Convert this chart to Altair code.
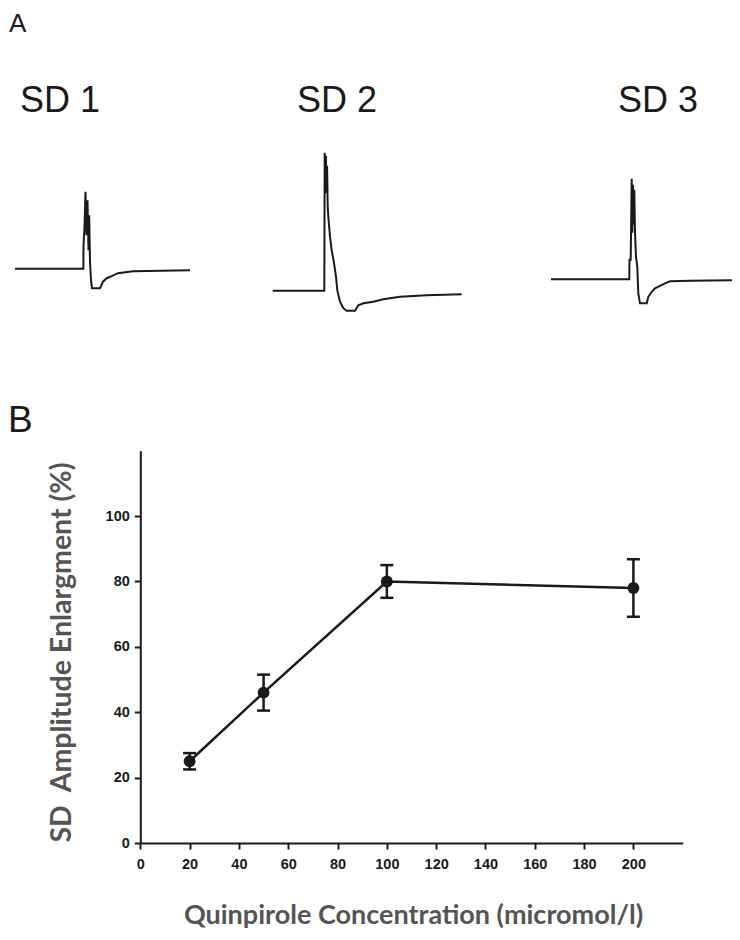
import altair as alt
import pandas as pd

# ---------------- Panel B data ----------------
conc = [20, 50, 100, 200]
amp_mean = [25, 46, 80, 78]
amp_err = [2.5, 5.5, 5.0, 8.8]
x_ticks = [0, 20, 40, 60, 80, 100, 120, 140, 160, 180, 200]
y_ticks = [0, 20, 40, 60, 80, 100]

# ---------------- Panel A traces (time s, potential mV relative to baseline) ----------------
sd1_t = [0, 68.3, 68.5, 69.5, 70.5, 71.5, 72.5, 73.5, 74.2, 75, 76, 77, 85, 88, 91.7, 96.7, 103, 118, 175]
sd1_v = [0, 0, 4.7, 8.3, 15.4, 6.7, 13.7, 3.7, 10.7, 1.3, -2.3, -3.9, -3.9, -2.6, -1.9, -1.5, -0.9, -0.5, -0.3]

sd2_t = [0, 51.6, 52.0, 52.6, 53.2, 53.8, 54.4, 55.0, 55.6, 57.3, 59, 61.3, 63.3, 64.6, 67.3, 70.6, 74, 82.3,
         85.6, 90.6, 100.6, 110.6, 127.3, 154, 189]
sd2_v = [0, 0, 27.6, 21.0, 27.0, 19.5, 25.0, 17.0, 14.8, 10.8, 8.1, 5.5, 2.8, 0.1, -2.2, -3.5, -4.0, -4.0,
         -2.9, -2.5, -2.2, -1.7, -1.2, -0.9, -0.7]

sd3_t = [0, 78.3, 78.5, 79.7, 80.7, 81.3, 82, 82.7, 83.3, 84, 85, 86.3, 87.3, 89, 95.7, 97.3, 100.7, 104,
         109, 114, 119, 139, 181]
sd3_v = [0, 0, 3.9, 3.9, 20.1, 9.3, 18.9, 10.9, 17.9, 9.3, 4.5, 2.5, -2.8, -4.8, -4.8, -3.5, -2.5, -1.8,
         -1.3, -0.8, -0.4, -0.3, -0.2]

trace_names = ["SD 1", "SD 2", "SD 3"]

INK = "#1a1a1a"
TITLE_GRAY = "#555555"

# ---------------- Panel B ----------------
dfB = pd.DataFrame({"conc": conc, "mean": amp_mean, "err": amp_err})
dfB["lo"] = dfB["mean"] - dfB["err"]
dfB["hi"] = dfB["mean"] + dfB["err"]

xscale = alt.Scale(domain=[0, 220], range=[132.3, 674.7], nice=False, zero=False)
yscale = alt.Scale(domain=[0, 120], range=[835, 442.7], nice=False, zero=False)

common_axis = dict(
    grid=False, labelFont="Liberation Sans", labelFontSize=14.5, labelFontWeight="bold",
    labelColor=INK, tickSize=6, tickWidth=2, tickColor=INK, domainColor=INK, domainWidth=2,
    labelFlush=False, labelOverlap=False, titleFont="Lato",
    titleFontWeight="bold", titleColor=TITLE_GRAY, titleAlign="center", titleBaseline="middle",
)
xaxis = alt.Axis(orient="bottom", offset=-89, values=x_ticks, labelPadding=8,
                 title="Quinpirole Concentration (micromol/l)", titleX=405, titleY=72.5,
                 titleFontSize=27, **common_axis)
yaxis = alt.Axis(orient="left", offset=-132.3, values=y_ticks, labelPadding=5,
                 title="SD\u00a0 Amplitude Enlargment (%)", titleX=-78.6, titleY=644, titleAngle=-90,
                 titleFontSize=28.5, **common_axis)

baseB = alt.Chart(dfB)
lineB = baseB.mark_line(color=INK, strokeWidth=2.5).encode(
    x=alt.X("conc:Q", scale=xscale, axis=xaxis),
    y=alt.Y("mean:Q", scale=yscale, axis=yaxis),
)
pointsB = baseB.mark_point(filled=True, shape="circle", size=140, color=INK, opacity=1).encode(
    x=alt.X("conc:Q", scale=xscale, axis=xaxis),
    y=alt.Y("mean:Q", scale=yscale, axis=yaxis),
)
errB = baseB.mark_rule(color=INK, strokeWidth=2.5).encode(
    x=alt.X("conc:Q", scale=xscale, axis=xaxis),
    y=alt.Y("lo:Q", scale=yscale, axis=yaxis),
    y2="hi:Q",
)
capLo = baseB.mark_tick(color=INK, orient="horizontal", size=13, thickness=2.5, opacity=1).encode(
    x=alt.X("conc:Q", scale=xscale, axis=xaxis),
    y=alt.Y("lo:Q", scale=yscale, axis=yaxis),
)
capHi = baseB.mark_tick(color=INK, orient="horizontal", size=13, thickness=2.5, opacity=1).encode(
    x=alt.X("conc:Q", scale=xscale, axis=xaxis),
    y=alt.Y("hi:Q", scale=yscale, axis=yaxis),
)
panelB = alt.layer(lineB, errB, capLo, capHi, pointsB)

# ---------------- Panel A traces ----------------
def trace_layer(t, v, x_range, y_range):
    df = pd.DataFrame({"t": t, "v": v, "i": list(range(len(t)))})
    return alt.Chart(df).mark_line(color=INK, strokeWidth=2).encode(
        x=alt.X("t:Q", scale=alt.Scale(domain=[0, 190], range=x_range, nice=False, zero=False), axis=None),
        y=alt.Y("v:Q", scale=alt.Scale(domain=[-10, 30], range=y_range, nice=False, zero=False), axis=None),
        order="i:Q",
    )

tr1 = trace_layer(sd1_t, sd1_v, [7, 197], [310.7, 110.7])
tr2 = trace_layer(sd2_t, sd2_v, [264.7, 454.7], [332.7, 132.7])
tr3 = trace_layer(sd3_t, sd3_v, [543, 733], [321.3, 121.3])

# ---------------- Text labels ----------------
def label(text, x, y, size, align="left"):
    return alt.Chart(pd.DataFrame({"label": [text]})).mark_text(
        font="Liberation Sans", fontSize=size, color=INK, align=align, baseline="alphabetic"
    ).encode(text="label:N", x=alt.value(x), y=alt.value(y))

lblA = label("A", 1, 24, 26)
lblB = label("B", 0, 423.7, 37)
lbl1 = label(trace_names[0], 52, 104, 36, "center")
lbl2 = label(trace_names[1], 329, 104, 36, "center")
lbl3 = label(trace_names[2], 650, 104, 36, "center")

chart = alt.layer(panelB, tr1, tr2, tr3, lblA, lblB, lbl1, lbl2, lbl3).resolve_scale(
    x="independent", y="independent"
).properties(
    width=724, height=924, autosize=alt.AutoSizeParams(type="none"), padding=0, background="white"
).configure_view(stroke=None)

chart.save("out.html", embed_options={"renderer": "svg", "actions": False})
